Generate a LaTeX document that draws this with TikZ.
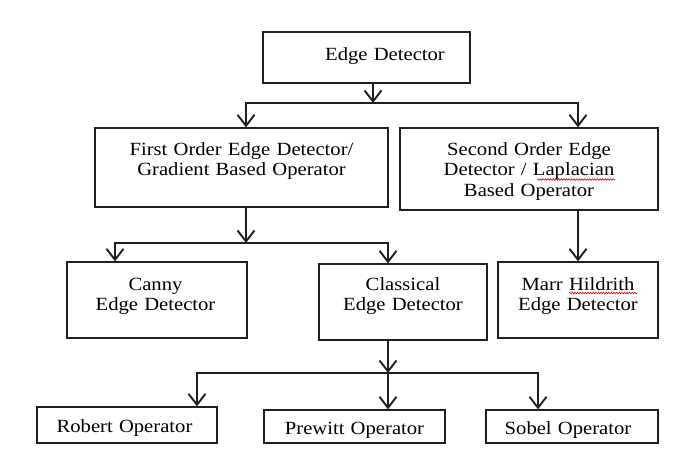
\documentclass[tikz,border=0pt]{standalone}
\usepackage{fontspec}
\setmainfont{Liberation Serif}[FakeStretch=1.11]
\usetikzlibrary{arrows.meta,decorations.pathmorphing}
\begin{document}
\begin{tikzpicture}[x=1pt,y=-1pt,
  box/.style={draw=black!88, line width=1.3pt, inner sep=0pt, align=center,
    font=\fontsize{18.6}{20.7}\selectfont, anchor=base},
  conn/.style={line width=1.9pt, draw=black!88},
  tip/.tip={Straight Barb[length=11pt,width=17pt]},
  arr/.style={conn, -tip},
  dbl/.style={conn, tip-tip},
  squiggle/.style={draw=red!85!black, line width=0.6pt, decorate,
    decoration={snake, amplitude=0.8pt, segment length=2.6pt}}]
\useasboundingbox (0,0) rectangle (691,463);
\fill[white] (0,0) rectangle (691,463);

\node[box, text width=207pt, text height=28pt, text depth=23pt] (top) at (366.5,60) {\hspace*{37pt}Edge Detector};
\node[box, text width=293pt, text height=27pt, text depth=52pt] (fo) at (241.5,155) {First Order Edge Detector/\\Gradient Based Operator};
\node[box, text width=258pt, text height=27pt, text depth=55pt] (so) at (529,155) {Second Order Edge\\Detector / Laplacian\\Based Operator};
\node[box, text width=180pt, text height=28pt, text depth=48pt] (canny) at (157,290) {\hspace*{-3pt}Canny\\\hspace*{-3pt}Edge Detector};
\node[box, text width=168pt, text height=26pt, text depth=50pt] (classical) at (403,290) {Classical\\Edge Detector};
\node[box, text width=160pt, text height=28pt, text depth=48pt] (marr) at (578,290) {Marr Hildrith\\Edge Detector};
\node[box, text width=180pt, text height=25pt, text depth=11pt] (robert) at (127,432) {\hspace*{-5pt}Robert Operator};
\node[box, text width=181pt, text height=24pt, text depth=9pt] (prewitt) at (354.5,434) {Prewitt Operator};
\node[box, text width=172pt, text height=24pt, text depth=9pt] (sobel) at (572,434) {\hspace*{-8pt}Sobel Operator};

\coordinate (j0) at (373,103);
\coordinate (j1L) at (246,103);
\coordinate (j1R) at (578,103);
\coordinate (j2) at (246,243);
\coordinate (j2L) at (115,243);
\coordinate (j2R) at (388,243);
\coordinate (j3) at (388,373);
\coordinate (j3L) at (197,373);
\coordinate (j3R) at (538,373);

\draw[arr] (top.south -| j0) -- (j0);
\draw[dbl] (fo.north -| j1L) -- (j1L) -- (j1R) -- (so.north -| j1R);
\draw[arr] (fo.south -| j2) -- (j2);
\draw[dbl] (canny.north -| j2L) -- (j2L) -- (j2R) -- (classical.north -| j2R);
\draw[arr] (so.south -| marr.north) -- (marr.north);
\draw[arr] (classical.south -| j3) -- (j3);
\draw[dbl] (robert.north -| j3L) -- (j3L) -- (j3R) -- (sobel.north -| j3R);
\draw[arr] (j3) -- (prewitt.north -| j3);

\draw[squiggle] (537,179.5) -- (615,179.5);
\draw[squiggle] (569,293) -- (637,293);
\end{tikzpicture}
\end{document}
